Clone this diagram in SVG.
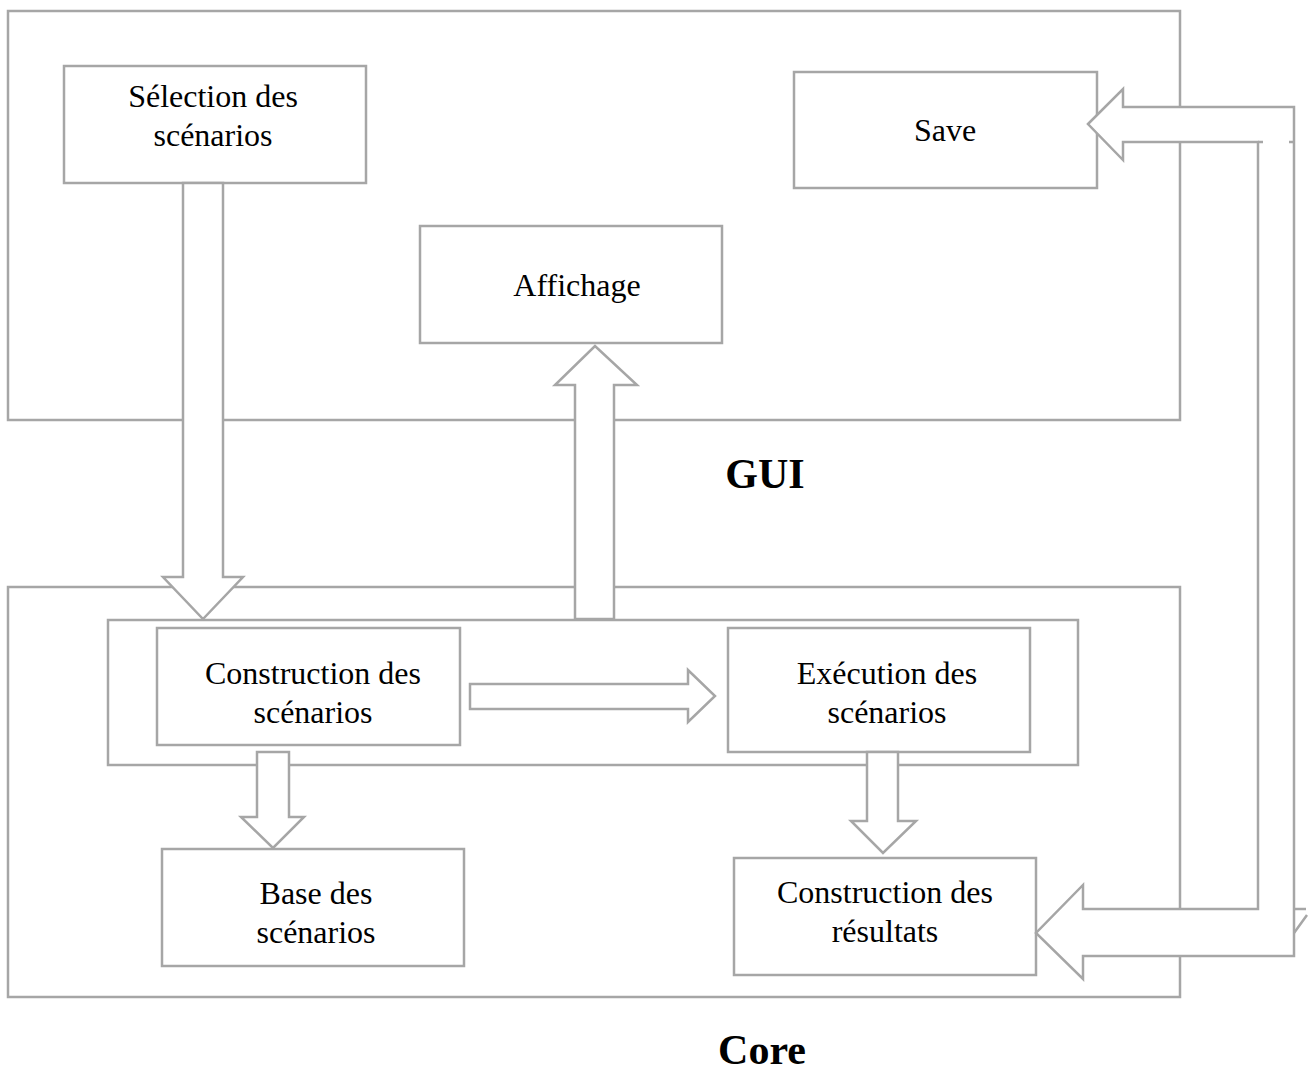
<svg xmlns="http://www.w3.org/2000/svg" width="1309" height="1068" viewBox="0 0 1309 1068">
  <style>
    .frame { fill: none; stroke: #a6a6a6; stroke-width: 2.5; }
    .box { fill: #ffffff; stroke: #a6a6a6; stroke-width: 2.5; }
    .arrow { fill: #ffffff; stroke: #a6a6a6; stroke-width: 2.5; stroke-linejoin: miter; }
    .line { fill: none; stroke: #a6a6a6; stroke-width: 2.5; }
    .label { font-family: "Liberation Serif", "Times New Roman", serif; font-size: 32px; fill: #000000; text-anchor: middle; }
    .title { font-family: "Liberation Serif", "Times New Roman", serif; font-size: 42px; font-weight: bold; fill: #000000; text-anchor: middle; }
  </style>

  <rect width="1309" height="1068" fill="#ffffff"/>

  <!-- layer frames -->
  <g id="gui-frame">
    <rect class="frame" x="8" y="11" width="1172" height="409"/>
    <text class="title" x="765" y="488">GUI</text>
  </g>
  <g id="core-frame">
    <rect class="frame" x="8" y="587" width="1172" height="410"/>
    <text class="title" x="762" y="1064">Core</text>
  </g>

  <!-- construction / execution group -->
  <g id="build-run-group">
    <rect class="frame" x="108" y="620" width="970" height="145"/>
  </g>

  <!-- nodes -->
  <g id="selection">
    <rect class="box" x="64" y="66" width="302" height="117"/>
    <text class="label" x="213" y="107">Sélection des</text>
    <text class="label" x="213" y="146">scénarios</text>
  </g>
  <g id="save">
    <rect class="box" x="794" y="72" width="303" height="116"/>
    <text class="label" x="945" y="141">Save</text>
  </g>
  <g id="affichage">
    <rect class="box" x="420" y="226" width="302" height="117"/>
    <text class="label" x="577" y="296">Affichage</text>
  </g>
  <g id="construction-scenarios">
    <rect class="box" x="157" y="628" width="303" height="117"/>
    <text class="label" x="313" y="684">Construction des</text>
    <text class="label" x="313" y="723">scénarios</text>
  </g>
  <g id="execution-scenarios">
    <rect class="box" x="728" y="628" width="302" height="124"/>
    <text class="label" x="887" y="684">Exécution des</text>
    <text class="label" x="887" y="723">scénarios</text>
  </g>
  <g id="base-scenarios">
    <rect class="box" x="162" y="849" width="302" height="117"/>
    <text class="label" x="316" y="904">Base des</text>
    <text class="label" x="316" y="943">scénarios</text>
  </g>
  <g id="construction-resultats">
    <rect class="box" x="734" y="858" width="302" height="117"/>
    <text class="label" x="885" y="903">Construction des</text>
    <text class="label" x="885" y="942">résultats</text>
  </g>

  <!-- block arrows -->
  <g id="connectors">
    <!-- selection -> construction -->
    <path class="arrow" d="M183,183 L223,183 L223,577 L243,577 L203,619 L163,577 L183,577 Z"/>
    <!-- core -> affichage -->
    <path class="arrow" d="M575,619 L575,385 L555,385 L595,346 L637,385 L614,385 L614,619 Z"/>
    <!-- construction -> execution -->
    <path class="arrow" d="M470,684 L688,684 L688,670 L715,696 L688,722 L688,709 L470,709 Z"/>
    <!-- construction -> base -->
    <path class="arrow" d="M257,752 L289,752 L289,817 L304,817 L273,848 L241,817 L257,817 Z"/>
    <!-- execution -> resultats -->
    <path class="arrow" d="M867,752 L898,752 L898,821 L916,821 L883,853 L851,821 L867,821 Z"/>
    <!-- resultats / save loop -->
    <path class="arrow" d="M1088,124 L1123,89 L1123,107 L1294,107 L1294,956 L1083,956 L1083,979 L1036,933 L1083,885 L1083,909 L1258,909 L1258,142 L1123,142 L1123,160 Z"/>
    <path class="line" d="M1258,142 L1263,142 M1289,142 L1293,142"/>
    <path class="line" d="M1294,909 L1306,909 M1307,915 L1294,933"/>
  </g>
</svg>
